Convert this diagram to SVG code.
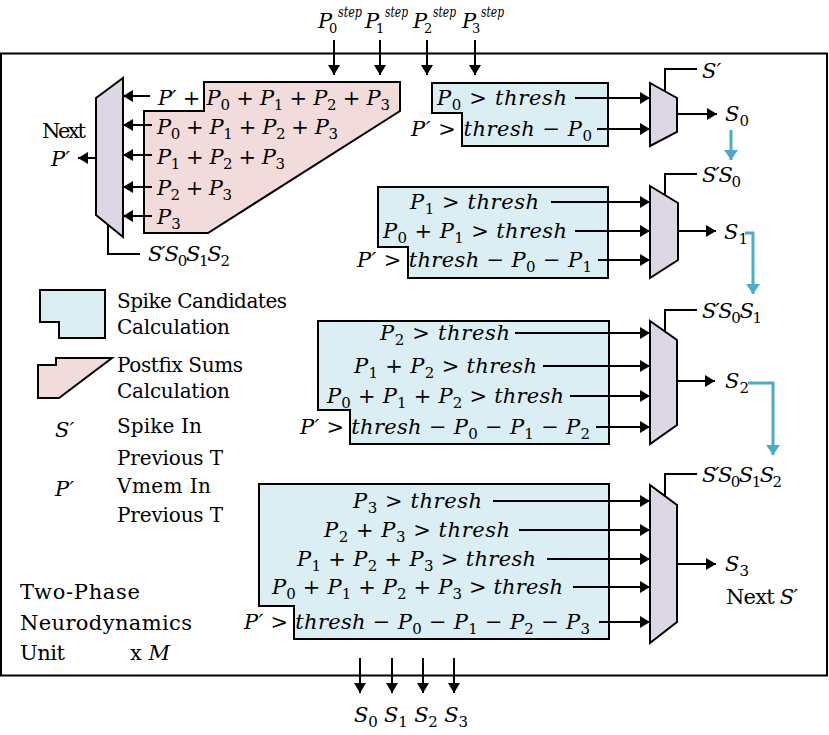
<svg xmlns="http://www.w3.org/2000/svg" width="829" height="735" viewBox="0 0 829 735">
<defs>
<style>
text{font-family:"DejaVu Serif","Liberation Serif",serif;fill:#000}
.m{font-style:italic;font-size:21px}
.r{font-size:20px}
.t{font-size:21px}
.s{font-size:15px;font-style:normal;baseline-shift:-5px}
.d{font-size:13px;font-style:normal;baseline-shift:-5px}
.sup{font-size:14px;font-style:italic;baseline-shift:11px}
.ln{stroke:#000;stroke-width:2;fill:none}
.ar{stroke:#000;stroke-width:2;fill:none;marker-end:url(#ah)}
.cy{stroke:#4BACC6;stroke-width:3;fill:none;marker-end:url(#ahc)}
.blue{fill:#DAEEF3;stroke:#000;stroke-width:2}
.pink{fill:#F2DCDB;stroke:#000;stroke-width:2}
.mux{fill:#DDD6E5;stroke:#000;stroke-width:2}
</style>
<marker id="ah" markerUnits="userSpaceOnUse" markerWidth="10" markerHeight="12" refX="10" refY="6" orient="auto" overflow="visible"><path d="M0,0 L10,6 L0,12 z" fill="#000"/></marker>
<marker id="ahc" markerUnits="userSpaceOnUse" markerWidth="10" markerHeight="14" refX="10" refY="7" orient="auto" overflow="visible"><path d="M0,0 L10,7 L0,14 z" fill="#4BACC6"/></marker>
</defs>
<rect width="829" height="735" fill="#fff"/>
<g id="unit-frame"><rect x="1" y="53.5" width="826" height="622" fill="none" stroke="#000" stroke-width="2"/></g>

<g id="inputs">
<text class="m" x="318" y="28">P<tspan class="d" x="329">0</tspan><tspan class="sup" x="338" textLength="24" lengthAdjust="spacingAndGlyphs">step</tspan></text>
<text class="m" x="365" y="28">P<tspan class="d" x="376">1</tspan><tspan class="sup" x="385" textLength="23" lengthAdjust="spacingAndGlyphs">step</tspan></text>
<text class="m" x="413" y="28">P<tspan class="d" x="424">2</tspan><tspan class="sup" x="433" textLength="23" lengthAdjust="spacingAndGlyphs">step</tspan></text>
<text class="m" x="462" y="28">P<tspan class="d" x="472">3</tspan><tspan class="sup" x="481" textLength="23" lengthAdjust="spacingAndGlyphs">step</tspan></text>
</g>

<g id="postfix-sums">
<polygon class="pink" points="204,82 400,82 400,111 208,233 144,233 144,111 204,111"/>
<text class="m" x="158" y="105" textLength="232" lengthAdjust="spacing">P′ + P<tspan class="s">0</tspan> + P<tspan class="s">1</tspan> + P<tspan class="s">2</tspan> + P<tspan class="s">3</tspan></text>
<text class="m" x="157" y="134" textLength="181" lengthAdjust="spacing">P<tspan class="s">0</tspan> + P<tspan class="s">1</tspan> + P<tspan class="s">2</tspan> + P<tspan class="s">3</tspan></text>
<text class="m" x="157" y="164" textLength="128" lengthAdjust="spacing">P<tspan class="s">1</tspan> + P<tspan class="s">2</tspan> + P<tspan class="s">3</tspan></text>
<text class="m" x="157" y="195" textLength="75" lengthAdjust="spacing">P<tspan class="s">2</tspan> + P<tspan class="s">3</tspan></text>
<text class="m" x="157" y="224">P<tspan class="s">3</tspan></text>
</g>

<g id="mux-vmem">
<polygon class="mux" points="96,98 123,78 123,237 96,215"/>
<text class="t" x="42" y="138" textLength="44" lengthAdjust="spacing">Next</text>
<text class="m" x="51" y="166">P′</text>
<text class="m" x="148" y="261" textLength="82" lengthAdjust="spacing">S′S<tspan class="s">0</tspan>S<tspan class="s">1</tspan>S<tspan class="s">2</tspan></text>
</g>

<g id="cand-0">
<polygon class="blue" points="432,83 608,83 608,146 462,146 462,113 432,113"/>
<text class="m" x="437" y="105" textLength="130" lengthAdjust="spacing">P<tspan class="s">0</tspan> &gt; thresh</text>
<text class="m" x="411" y="136" textLength="181" lengthAdjust="spacing">P′ &gt; thresh − P<tspan class="s">0</tspan></text>
</g>
<g id="mux-0">
<polygon class="mux" points="650,83 677,98 677,132 650,146"/>
<text class="m" x="702" y="78">S′</text>
<text class="m" x="725" y="121">S<tspan class="s">0</tspan></text>
</g>

<g id="cand-1">
<polygon class="blue" points="378,187 608,187 608,278 408,278 408,247 378,247"/>
<text class="m" x="410" y="209" textLength="129" lengthAdjust="spacing">P<tspan class="s">1</tspan> &gt; thresh</text>
<text class="m" x="383" y="238" textLength="184" lengthAdjust="spacing">P<tspan class="s">0</tspan> + P<tspan class="s">1</tspan> &gt; thresh</text>
<text class="m" x="357" y="267" textLength="235" lengthAdjust="spacing">P′ &gt; thresh − P<tspan class="s">0</tspan> − P<tspan class="s">1</tspan></text>
</g>
<g id="mux-1">
<polygon class="mux" points="650,186 678,203 678,260 650,278"/>
<text class="m" x="702" y="182" textLength="39" lengthAdjust="spacing">S′S<tspan class="s">0</tspan></text>
<text class="m" x="724" y="239">S<tspan class="s">1</tspan></text>
</g>

<g id="cand-2">
<polygon class="blue" points="318,321 609,321 609,444 350,444 350,410 318,410"/>
<text class="m" x="380" y="340" textLength="130" lengthAdjust="spacing">P<tspan class="s">2</tspan> &gt; thresh</text>
<text class="m" x="354" y="373" textLength="183" lengthAdjust="spacing">P<tspan class="s">1</tspan> + P<tspan class="s">2</tspan> &gt; thresh</text>
<text class="m" x="327" y="403" textLength="237" lengthAdjust="spacing">P<tspan class="s">0</tspan> + P<tspan class="s">1</tspan> + P<tspan class="s">2</tspan> &gt; thresh</text>
<text class="m" x="300" y="434" textLength="290" lengthAdjust="spacing">P′ &gt; thresh − P<tspan class="s">0</tspan> − P<tspan class="s">1</tspan> − P<tspan class="s">2</tspan></text>
</g>
<g id="mux-2">
<polygon class="mux" points="650,321 677,340 677,425 650,444"/>
<text class="m" x="702" y="318" textLength="60" lengthAdjust="spacing">S′S<tspan class="s">0</tspan>S<tspan class="s">1</tspan></text>
<text class="m" x="725" y="388">S<tspan class="s">2</tspan></text>
</g>

<g id="cand-3">
<polygon class="blue" points="259,484 609,484 609,639 294,639 294,606 259,606"/>
<text class="m" x="353" y="508" textLength="129" lengthAdjust="spacing">P<tspan class="s">3</tspan> &gt; thresh</text>
<text class="m" x="324" y="537" textLength="186" lengthAdjust="spacing">P<tspan class="s">2</tspan> + P<tspan class="s">3</tspan> &gt; thresh</text>
<text class="m" x="297" y="566" textLength="239" lengthAdjust="spacing">P<tspan class="s">1</tspan> + P<tspan class="s">2</tspan> + P<tspan class="s">3</tspan> &gt; thresh</text>
<text class="m" x="272" y="594" textLength="291" lengthAdjust="spacing">P<tspan class="s">0</tspan> + P<tspan class="s">1</tspan> + P<tspan class="s">2</tspan> + P<tspan class="s">3</tspan> &gt; thresh</text>
<text class="m" x="244" y="629" textLength="346" lengthAdjust="spacing">P′ &gt; thresh − P<tspan class="s">0</tspan> − P<tspan class="s">1</tspan> − P<tspan class="s">2</tspan> − P<tspan class="s">3</tspan></text>
</g>
<g id="mux-3">
<polygon class="mux" points="650,485 677,505 677,622 650,643"/>
<text class="m" x="702" y="482" textLength="80" lengthAdjust="spacing">S′S<tspan class="s">0</tspan>S<tspan class="s">1</tspan>S<tspan class="s">2</tspan></text>
<text class="m" x="725" y="571">S<tspan class="s">3</tspan></text>
<text class="t" x="726" y="604" textLength="72" lengthAdjust="spacing">Next <tspan font-style="italic">S′</tspan></text>
</g>

<g id="legend">
<polygon class="blue" points="40,290 105,290 105,338 59,338 59,322 40,322"/>
<polygon class="pink" points="56,358 112,358 59,398 38,398 38,365 56,365"/>
<text class="r" x="117" y="308" textLength="170" lengthAdjust="spacing">Spike Candidates</text>
<text class="r" x="117" y="334" textLength="113" lengthAdjust="spacing">Calculation</text>
<text class="r" x="117" y="372" textLength="126" lengthAdjust="spacing">Postfix Sums</text>
<text class="r" x="117" y="398" textLength="113" lengthAdjust="spacing">Calculation</text>
<text class="m" x="55" y="437">S′</text>
<text class="r" x="117" y="433" textLength="85" lengthAdjust="spacing">Spike In</text>
<text class="r" x="117" y="465" textLength="106" lengthAdjust="spacing">Previous T</text>
<text class="m" x="55" y="496">P′</text>
<text class="r" x="117" y="493" textLength="94" lengthAdjust="spacing">Vmem In</text>
<text class="r" x="117" y="522" textLength="106" lengthAdjust="spacing">Previous T</text>
</g>

<g id="title">
<text class="t" x="20" y="599" textLength="120" lengthAdjust="spacing">Two-Phase</text>
<text class="t" x="20" y="630" textLength="172" lengthAdjust="spacing">Neurodynamics</text>
<text class="t" x="20" y="660" textLength="45" lengthAdjust="spacing">Unit</text>
<text class="t" x="130" y="660">x <tspan font-style="italic">M</tspan></text>
</g>

<g id="outputs">
<text class="m" x="354" y="722" textLength="114" lengthAdjust="spacing">S<tspan class="s">0</tspan> S<tspan class="s">1</tspan> S<tspan class="s">2</tspan> S<tspan class="s">3</tspan></text>
</g>

<g id="connectors">
<path class="ar" d="M334,40 V75"/>
<path class="ar" d="M380,40 V75"/>
<path class="ar" d="M427,40 V75"/>
<path class="ar" d="M475,40 V75"/>
<path class="ar" d="M150,96 H123"/>
<path class="ar" d="M152,125 H123"/>
<path class="ar" d="M152,155 H123"/>
<path class="ar" d="M152,187 H123"/>
<path class="ar" d="M152,216 H123"/>
<path class="ar" d="M96,158 H78"/>
<path class="ln" d="M108,225 V254 H140"/>
<path class="ar" d="M575,98 H650"/>
<path class="ar" d="M597,129 H650"/>
<path class="ln" d="M665,91 V69 H697"/>
<path class="ar" d="M677,114 H717"/>
<path class="ar" d="M551,202 H650"/>
<path class="ar" d="M575,231 H650"/>
<path class="ar" d="M598,260 H650"/>
<path class="ln" d="M665,195 V174 H697"/>
<path class="ar" d="M678,231 H716"/>
<path class="ar" d="M515,333 H650"/>
<path class="ar" d="M543,366 H650"/>
<path class="ar" d="M570,396 H650"/>
<path class="ar" d="M596,427 H650"/>
<path class="ln" d="M665,331 V310 H697"/>
<path class="ar" d="M677,381 H715"/>
<path class="ar" d="M493,501 H650"/>
<path class="ar" d="M519,530 H650"/>
<path class="ar" d="M547,559 H650"/>
<path class="ar" d="M573,587 H650"/>
<path class="ar" d="M599,622 H650"/>
<path class="ln" d="M665,497 V474 H697"/>
<path class="ar" d="M677,564 H716"/>
<path class="cy" d="M731,130 V160"/>
<path class="cy" d="M745,233 H753 V294"/>
<path class="cy" d="M748,383 H773 V455"/>
<path class="ar" d="M360,658 V693"/>
<path class="ar" d="M392,658 V693"/>
<path class="ar" d="M423,658 V693"/>
<path class="ar" d="M454,658 V693"/>
</g>
</svg>
